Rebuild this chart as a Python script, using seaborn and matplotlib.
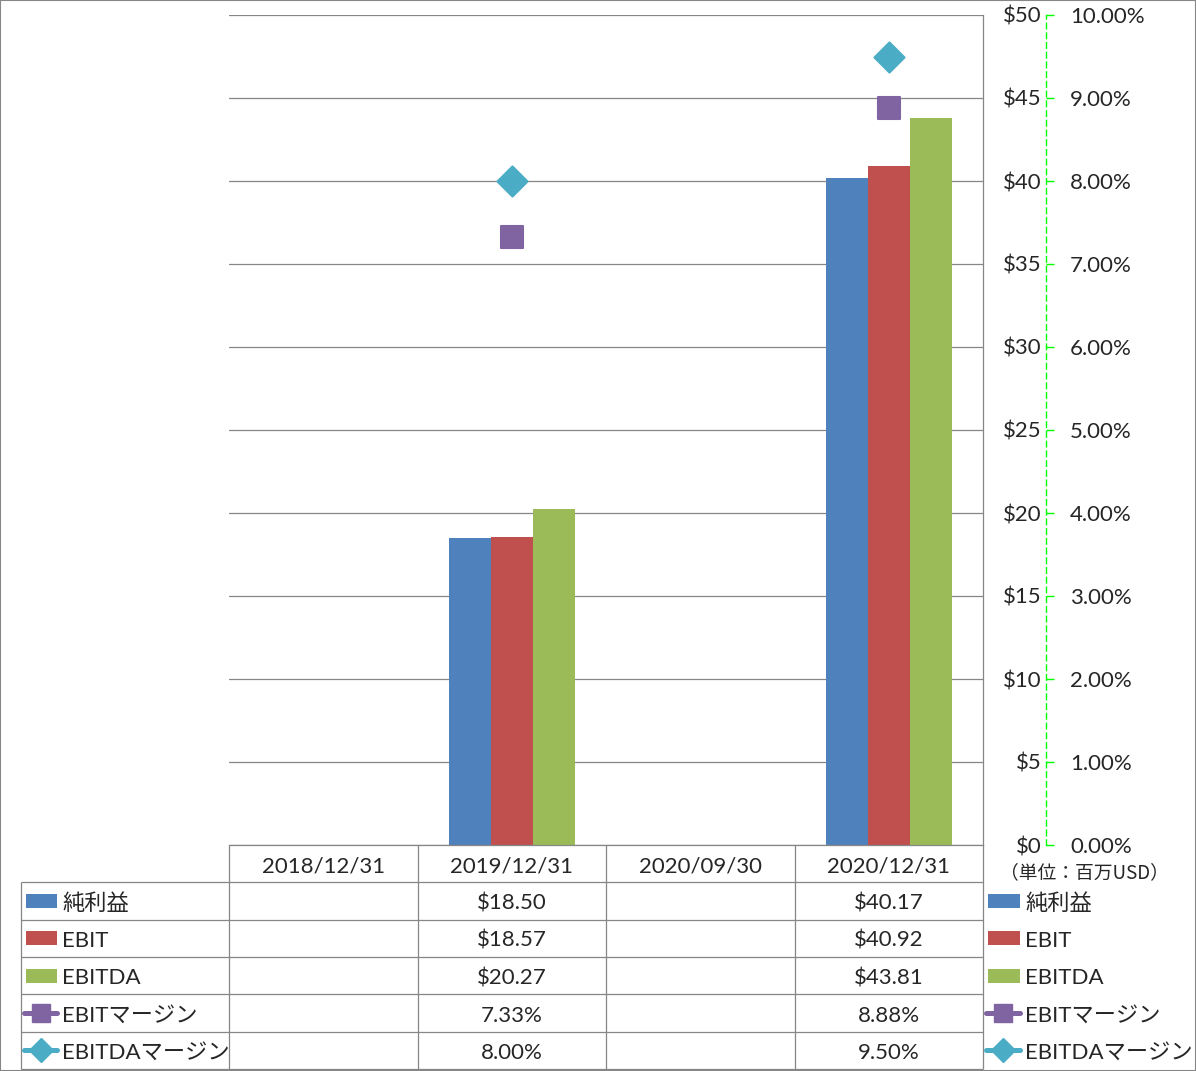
import numpy as np
import pandas as pd
import seaborn as sns
import matplotlib.pyplot as plt
from matplotlib.patches import Rectangle
from matplotlib.lines import Line2D
from matplotlib.ticker import FuncFormatter

# data (単位: 百万USD)
periods = ['2018/12/31', '2019/12/31', '2020/09/30', '2020/12/31']
net_income = [np.nan, 18.50, np.nan, 40.17]
ebit = [np.nan, 18.57, np.nan, 40.92]
ebitda = [np.nan, 20.27, np.nan, 43.81]
ebit_margin = [np.nan, 7.33, np.nan, 8.88]
ebitda_margin = [np.nan, 8.00, np.nan, 9.50]

bar_names = ['純利益', 'EBIT', 'EBITDA']
line_names = ['EBITマージン', 'EBITDAマージン']
bar_colors = ['#4F81BD', '#C0504D', '#9BBB59']
line_colors = ['#8064A2', '#4BACC6']
line_markers = ['s', 'D']

sns.set_style('white')
plt.rcParams['font.family'] = ['Lato', 'Noto Sans CJK JP', 'DejaVu Sans']
plt.rcParams['font.size'] = 16

W, H = 1196, 1071
GRID = '#868686'
fig = plt.figure(figsize=(W / 100, H / 100), dpi=100)

# plot area in pixels
left_px, right_px, top_px, bot_px = 229, 983, 15, 845
ax = fig.add_axes([left_px / W, 1 - bot_px / H, (right_px - left_px) / W, (bot_px - top_px) / H])

df = pd.DataFrame({'period': periods * 3,
                   'series': np.repeat(bar_names, len(periods)),
                   'value': net_income + ebit + ebitda})
sns.barplot(data=df, x='period', y='value', hue='series', order=periods, hue_order=bar_names,
            palette=bar_colors, width=0.67, gap=0, saturation=1, errorbar=None,
            linewidth=0, legend=False, ax=ax)
ax.set_xlim(-0.5, len(periods) - 0.5)
ax.set_ylim(0, 50)
ax.set_yticks(np.arange(0, 51, 5))
ax.yaxis.grid(True, color=GRID, lw=0.9)
ax.set_axisbelow(True)
ax.set_xticks([])
ax.set(xlabel='', ylabel='')
for s in ['left', 'top']:
    ax.spines[s].set_visible(False)
for s in ['right', 'bottom']:
    ax.spines[s].set_color(GRID)
    ax.spines[s].set_linewidth(0.9)

# secondary axis (margins)
ax2 = ax.twinx()
xs = np.arange(len(periods))
for vals, c, m in zip([ebit_margin, ebitda_margin], line_colors, line_markers):
    sns.scatterplot(x=xs, y=vals, marker=m, s=235, color=c, edgecolor=c, linewidth=1.5,
                    legend=False, ax=ax2, zorder=3)
ax2.set_xlim(-0.5, len(periods) - 0.5)
ax2.set_ylim(0, 10)
ax2.set_yticks(np.arange(0, 11, 1))
ax2.yaxis.set_major_formatter(FuncFormatter(lambda v, p: f'{v:.2f}%'))
for s in ['left', 'top', 'bottom']:
    ax2.spines[s].set_visible(False)
ax2.spines['right'].set_position(('outward', 45.4))
ax2.spines['right'].set_color('#00FF00')
ax2.spines['right'].set_linestyle((0, (4, 3)))
ax2.spines['right'].set_linewidth(1)
ax2.tick_params(axis='y', color='#00FF00', length=5.8, width=1, pad=11.5, labelsize=16)
ax2.grid(False)

# primary value labels on the right, right-aligned next to green axis
ax.yaxis.tick_right()
ax.yaxis.set_major_formatter(FuncFormatter(lambda v, p: f'${v:.0f}'))
ax.tick_params(axis='y', length=0, pad=42, labelsize=16)
for lbl in ax.get_yticklabels():
    lbl.set_horizontalalignment('right')

# data table
cat_w = (right_px - left_px) / len(periods)


def px2c(p):
    return (p - left_px) / cat_w - 0.5


tab_top, tab_bot = 845, 1069
n_rows = 6
axt = fig.add_axes([0, 1 - tab_bot / H, 1, (tab_bot - tab_top) / H])
axt.set_xlim(px2c(0), px2c(W))
axt.set_ylim(n_rows, 0)
axt.axis('off')

axt.vlines(np.arange(len(periods) + 1) - 0.5, 0, n_rows, color=GRID, lw=0.9, clip_on=False)
axt.vlines(px2c(21), 1, n_rows, color=GRID, lw=0.9, clip_on=False)
axt.hlines(np.arange(1, n_rows + 1), px2c(21), len(periods) - 0.5, color=GRID, lw=0.9, clip_on=False)

dy = 0.07  # nudge text to the visual centre of each row
for i, p in enumerate(periods):
    axt.text(i, 0.5 + dy, p, ha='center', va='center')

rows = [(net_income, '${:.2f}'), (ebit, '${:.2f}'), (ebitda, '${:.2f}'),
        (ebit_margin, '{:.2f}%'), (ebitda_margin, '{:.2f}%')]
for r, (vals, fmt) in enumerate(rows):
    for i, v in enumerate(vals):
        if not np.isnan(v):
            axt.text(i, r + 1.5 + dy, fmt.format(v), ha='center', va='center')

# legend keys: left of table and right legend
names = bar_names + line_names
row_h_px = (tab_bot - tab_top) / n_rows
for x0, x1, xt in [(26, 57, 62), (988, 1020, 1025)]:
    for k, name in enumerate(names):
        yc = k + 1.5
        if k < len(bar_names):
            h = 14 / row_h_px
            axt.add_patch(Rectangle((px2c(x0), yc - h / 2), px2c(x1) - px2c(x0), h,
                                    color=bar_colors[k], lw=0, clip_on=False))
        else:
            c = line_colors[k - len(bar_names)]
            m = line_markers[k - len(bar_names)]
            axt.add_line(Line2D([px2c(x0 - 2), px2c(x1)], [yc, yc], color=c, lw=3.6,
                                solid_capstyle='round', clip_on=False))
            axt.add_line(Line2D([(px2c(x0 - 2) + px2c(x1)) / 2], [yc], color=c, marker=m,
                                markersize=13 if m == 's' else 12.5, mec=c, clip_on=False))
        axt.text(px2c(xt), yc + dy, name, ha='left', va='center')

fig.text(1000 / W, 1 - 873 / H, '（単位：百万USD）', ha='left', va='center', fontsize=13.5,
         family=['Noto Sans CJK JP', 'DejaVu Sans'])

fig.add_artist(Rectangle((0, 0), 1, 1, transform=fig.transFigure, fill=False,
                         edgecolor=GRID, lw=1.5))

fig.savefig('out.png', dpi=100)
